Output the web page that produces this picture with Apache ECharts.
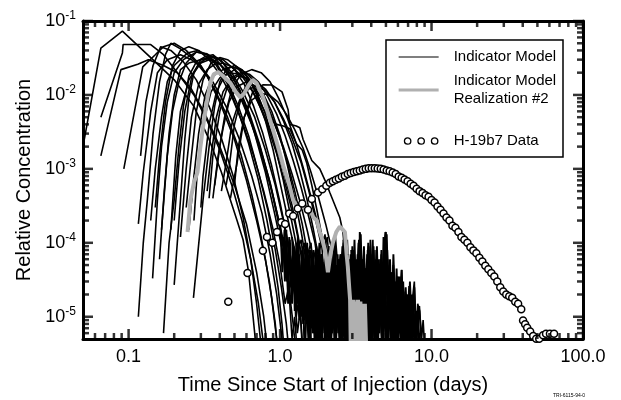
<!DOCTYPE html>
<html>
<head>
<meta charset="utf-8">
<script src="https://cdn.jsdelivr.net/npm/echarts@6/dist/echarts.min.js"></script>
<style>html,body{margin:0;padding:0;background:#fff}#chart{width:621px;height:400px}</style>
</head>
<body>
<div id="chart"></div>
<script>
// ---------- axis ticks ----------
const xTickValues = [0.1, 1, 10, 100];
const xTickLabels = ['0.1', '1.0', '10.0', '100.0'];
const xMinorTicks = [0.06,0.07,0.08,0.09,0.2,0.3,0.4,0.5,0.6,0.7,0.8,0.9,2,3,4,5,6,7,8,9,20,30,40,50,60,70,80,90];
const yTickValues = [1e-5, 1e-4, 1e-3, 1e-2, 1e-1];
const yTickExps = ['-5', '-4', '-3', '-2', '-1'];
const yMinorTicks = [6e-6,7e-6,8e-6,9e-6,2e-5,3e-5,4e-5,5e-5,6e-5,7e-5,8e-5,9e-5,2e-4,3e-4,4e-4,5e-4,6e-4,7e-4,8e-4,9e-4,2e-3,3e-3,4e-3,5e-3,6e-3,7e-3,8e-3,9e-3,2e-2,3e-2,4e-2,5e-2,6e-2,7e-2,8e-2,9e-2];

// ---------- Indicator Model runs [time (days), relative concentration] ----------
const model01 = [[0.05,2.0e-3],[0.0656,0.043],[0.091,0.073],[0.14,0.032],[0.2,0.016],[0.27,7e-3],[0.34,2.5e-3],[0.41,9e-4],[0.47,3.8e-4],[0.52,2e-4],[0.57,1.1e-4],[0.62,4e-5],[0.68,6e-6],[0.7,3e-6]];
const model02 = [[0.0656,5e-3],[0.091,0.037],[0.092,0.048],[0.14,0.048],[0.17,0.035],[0.21,0.02],[0.27,0.01],[0.33,4.5e-3],[0.4,1.8e-3],[0.48,6e-4],[0.56,2e-4],[0.64,6e-5],[0.72,1.5e-5],[0.78,4e-6]];
const model03 = [[0.0656,1.5e-3],[0.089,0.022],[0.115,0.026],[0.135,0.03],[0.17,0.025],[0.21,0.02],[0.26,0.012],[0.32,5.5e-3],[0.4,2e-3],[0.5,6e-4],[0.6,1.8e-4],[0.7,4e-5],[0.78,1e-5],[0.82,4e-6]];
const model04 = [[0.093,1e-3],[0.124,0.024],[0.15,0.035],[0.17,0.045],[0.2,0.05],[0.24,0.04],[0.3,0.025],[0.37,0.012],[0.45,5e-3],[0.55,1.6e-3],[0.65,4.5e-4],[0.75,1.2e-4],[0.85,3e-5],[0.93,8e-6],[0.97,3e-6]];
const model05 = [[0.116,1e-5],[0.125,1e-4],[0.133,3.8e-4],[0.145,3e-3],[0.16,0.015],[0.175,0.035],[0.19,0.05],[0.22,0.042],[0.27,0.03],[0.33,0.018],[0.4,8e-3],[0.5,2.5e-3],[0.6,7e-4],[0.7,2e-4],[0.8,6e-5],[0.88,1.8e-5],[0.95,5e-6]];
const model06 = [[0.116,1.8e-4],[0.125,9e-4],[0.14,6e-3],[0.155,0.02],[0.18,0.03],[0.22,0.035],[0.26,0.03],[0.3,0.024],[0.36,0.015],[0.44,7e-3],[0.54,2.5e-3],[0.65,8e-4],[0.76,2.5e-4],[0.86,7e-5],[0.95,2e-5],[1.02,6e-6],[1.06,3e-6]];
const model07 = [[0.144,3.3e-5],[0.155,3.8e-4],[0.165,2e-3],[0.18,8e-3],[0.2,0.02],[0.23,0.03],[0.28,0.038],[0.33,0.035],[0.38,0.027],[0.45,0.015],[0.53,7e-3],[0.62,2.8e-3],[0.72,9e-4],[0.83,2.8e-4],[0.93,8e-5],[1.02,2.5e-5],[1.1,8e-6],[1.15,3e-6]];
const model08 = [[0.17,6e-6],[0.185,1e-4],[0.2,3.8e-4],[0.215,2e-3],[0.23,7e-3],[0.25,0.018],[0.28,0.028],[0.32,0.033],[0.36,0.035],[0.42,0.027],[0.5,0.016],[0.58,8e-3],[0.68,3e-3],[0.8,9e-4],[0.92,2.5e-4],[1.05,7e-5],[1.15,2.2e-5],[1.22,8e-6],[1.28,3e-6]];
const model09 = [[0.2,2.7e-5],[0.22,3.8e-4],[0.235,2.5e-3],[0.25,9e-3],[0.27,0.02],[0.3,0.027],[0.34,0.03],[0.4,0.026],[0.46,0.02],[0.54,0.012],[0.63,5.5e-3],[0.73,2.2e-3],[0.85,7e-4],[0.98,2e-4],[1.1,7e-5],[1.2,3e-5],[1.25,4.5e-5],[1.3,1.5e-5],[1.36,2.8e-5],[1.42,8e-6],[1.48,1.6e-5],[1.55,4e-6]];
const model10 = [[0.268,1.8e-5],[0.31,3.8e-4],[0.34,2e-3],[0.37,7e-3],[0.4,0.015],[0.44,0.022],[0.5,0.025],[0.56,0.022],[0.62,0.017],[0.7,0.01],[0.8,4.5e-3],[0.9,1.8e-3],[1.0,6.5e-4],[1.12,2.2e-4],[1.25,8e-5],[1.35,3.5e-5],[1.42,5e-5],[1.5,1.8e-5],[1.58,3e-5],[1.65,9e-6],[1.72,1.8e-5],[1.8,5e-6],[1.86,1.2e-5],[1.95,3e-6]];
const model11 = [[0.14,2e-4],[0.15,1e-3],[0.165,5e-3],[0.18,0.015],[0.2,0.025],[0.245,0.037],[0.285,0.04],[0.33,0.035],[0.38,0.025],[0.45,0.014],[0.53,6e-3],[0.62,2.2e-3],[0.72,7e-4],[0.82,2e-4],[0.9,7e-5],[0.97,2.5e-5],[1.03,8e-6],[1.07,3e-6]];
const model12 = [[0.16,6e-5],[0.172,5e-4],[0.185,3e-3],[0.2,0.01],[0.22,0.022],[0.25,0.027],[0.3,0.03],[0.36,0.033],[0.42,0.03],[0.5,0.022],[0.58,0.014],[0.67,7e-3],[0.77,3e-3],[0.88,1.1e-3],[1.0,3.5e-4],[1.12,1.1e-4],[1.22,4e-5],[1.3,6e-5],[1.36,2e-5],[1.42,3.5e-5],[1.5,8e-6],[1.56,1.5e-5],[1.62,3e-6]];
const model13 = [[0.25,1.5e-4],[0.27,8e-4],[0.29,3e-3],[0.32,0.01],[0.36,0.018],[0.42,0.022],[0.48,0.024],[0.52,0.023],[0.6,0.018],[0.7,0.011],[0.8,5.5e-3],[0.92,2.2e-3],[1.05,7e-4],[1.18,2.2e-4],[1.3,8e-5],[1.38,1.1e-4],[1.45,4e-5],[1.52,6.5e-5],[1.6,2e-5],[1.68,3.5e-5],[1.75,1e-5],[1.82,2.2e-5],[1.9,6e-6],[1.96,1.2e-5],[2.05,3e-6]];
const model14 = [[0.37,6e-4],[0.4,2e-3],[0.42,3.5e-3],[0.46,8e-3],[0.52,0.013],[0.6,0.015],[0.7,0.013],[0.78,0.01],[0.88,6e-3],[1.0,2.8e-3],[1.12,1.1e-3],[1.25,4e-4],[1.38,1.4e-4],[1.5,5e-5],[1.58,8e-5],[1.66,2.5e-5],[1.74,4.5e-5],[1.82,1.2e-5],[1.9,2.5e-5],[2.0,6e-6],[2.08,1.4e-5],[2.16,4e-6]];
const model15 = [[0.47,4e-4],[0.52,1.2e-3],[0.58,5e-3],[0.66,0.011],[0.77,0.0137],[0.886,0.0136],[1.03,0.011],[1.13,6.3e-3],[1.16,4e-3],[1.28,3.8e-3],[1.35,3.6e-3],[1.42,2.5e-3],[1.62,1.3e-3],[1.83,1e-3],[1.98,7e-4],[2.13,4.8e-4],[2.23,3.8e-4],[2.48,2.2e-4],[2.6,1.4e-4],[2.7,6e-5],[2.78,1.1e-4],[2.85,3e-5],[2.92,7e-5],[3.0,1.5e-5],[3.08,5e-5],[3.16,8e-6],[3.25,3.5e-5],[3.32,1e-5],[3.38,1.35e-4],[3.44,2e-5],[3.52,6e-5],[3.6,7e-6],[3.68,4e-5],[3.76,1.2e-5],[3.85,8e-5],[3.93,9e-6],[4.02,5e-5],[4.1,1.1e-4],[4.18,1.5e-5],[4.27,6e-5],[4.36,8e-6],[4.45,4e-5],[4.55,1e-5],[4.65,7e-5],[4.75,1.2e-5],[4.85,5e-5],[4.95,1.4e-4],[5.05,2e-5],[5.15,6e-5],[5.25,7e-6],[5.38,4e-5],[5.5,1e-5],[5.62,3e-5],[5.75,6e-6],[5.9,2.5e-5],[6.05,8e-6],[6.2,2e-5],[6.35,4.3e-5],[6.5,6e-6],[6.7,2.2e-5],[6.9,7e-6],[7.1,2.6e-5],[7.3,6e-6],[7.5,1.8e-5],[7.7,3e-5],[7.9,5e-6],[8.1,1.5e-5],[8.35,1.2e-5],[8.6,5e-6],[8.8,9e-6],[9.0,4e-6]];
const model16 = [[0.22,1.2e-4],[0.24,1e-3],[0.26,5e-3],[0.29,0.014],[0.33,0.022],[0.37,0.026],[0.42,0.027],[0.48,0.024],[0.56,0.018],[0.66,0.011],[0.78,5.5e-3],[0.92,2.4e-3],[1.06,9e-4],[1.2,3.2e-4],[1.32,1.2e-4],[1.42,4.5e-5],[1.48,7e-5],[1.54,2e-5],[1.6,4e-5],[1.67,8e-6],[1.74,1.8e-5],[1.8,4e-6]];
const model17 = [[0.19,1.5e-4],[0.205,1.5e-3],[0.22,6e-3],[0.25,0.016],[0.29,0.026],[0.33,0.032],[0.36,0.033],[0.41,0.029],[0.48,0.02],[0.57,0.011],[0.68,5e-3],[0.8,1.8e-3],[0.93,6e-4],[1.05,2e-4],[1.15,7e-5],[1.22,2.5e-5],[1.28,4e-5],[1.34,1e-5],[1.4,2e-5],[1.46,4e-6]];
const model18 = [[0.41,5e-4],[0.44,1.2e-3],[0.48,4e-3],[0.54,8.5e-3],[0.62,0.012],[0.7,0.013],[0.8,0.0115],[0.92,8e-3],[1.05,4.5e-3],[1.2,2.2e-3],[1.35,9.5e-4],[1.5,4e-4],[1.65,1.6e-4],[1.78,7e-5],[1.88,1e-4],[1.96,3e-5],[2.05,5.5e-5],[2.14,1.2e-5],[2.22,2.8e-5],[2.3,6e-6],[2.4,1.5e-5],[2.5,4e-6]];
const model19 = [[0.3,3e-4],[0.31,8e-4],[0.34,4e-3],[0.38,0.011],[0.43,0.018],[0.52,0.023],[0.6,0.02],[0.7,0.014],[0.82,7.5e-3],[0.95,3.5e-3],[1.1,1.4e-3],[1.25,5e-4],[1.4,1.8e-4],[1.52,7e-5],[1.6,1e-4],[1.68,3e-5],[1.76,5e-5],[1.84,1.1e-5],[1.92,2.5e-5],[2.0,5e-6],[2.1,1.5e-5],[2.2,4e-6]];
const model20 = [[0.34,4e-4],[0.36,1.5e-3],[0.4,6e-3],[0.45,0.013],[0.52,0.018],[0.6,0.017],[0.68,0.012],[0.76,7e-3],[0.86,4.6e-3],[0.95,4e-3],[1.05,3.8e-3],[1.16,3.5e-3],[1.28,2.2e-3],[1.4,1.8e-3],[1.5,1.2e-3],[1.62,6e-4],[1.75,2.8e-4],[1.88,1.3e-4],[2.0,6e-5],[2.1,9e-5],[2.2,3e-5],[2.3,6e-5],[2.4,1.2e-5],[2.5,3e-5],[2.6,5e-6],[2.7,1.4e-5],[2.8,4e-6]];
const model21 = [[0.12,1.5e-3],[0.13,8e-3],[0.145,0.025],[0.163,0.045],[0.19,0.04],[0.23,0.028],[0.28,0.016],[0.34,7e-3],[0.41,2.6e-3],[0.49,8e-4],[0.57,2.2e-4],[0.64,6e-5],[0.7,1.5e-5],[0.75,4e-6]];
const model22 = [[0.165,1.5e-4],[0.18,1.5e-3],[0.195,6e-3],[0.215,0.015],[0.24,0.027],[0.28,0.038],[0.33,0.036],[0.38,0.03],[0.45,0.02],[0.53,0.011],[0.63,5e-3],[0.74,1.9e-3],[0.86,6.5e-4],[0.98,2e-4],[1.08,7e-5],[1.16,2.5e-5],[1.22,4e-5],[1.28,1e-5],[1.34,2e-5],[1.4,4e-6]];
const model23 = [[0.27,2e-4],[0.285,1e-3],[0.31,4e-3],[0.35,0.011],[0.4,0.017],[0.46,0.02],[0.54,0.019],[0.64,0.015],[0.76,9e-3],[0.9,4.5e-3],[1.05,2e-3],[1.2,8.5e-4],[1.36,3.5e-4],[1.52,1.4e-4],[1.66,6e-5],[1.74,9e-5],[1.82,2.5e-5],[1.9,5e-5],[1.98,1e-5],[2.06,2.8e-5],[2.15,6e-6],[2.25,1.6e-5],[2.35,4e-6]];
const model24 = [[0.44,6e-4],[0.46,1e-3],[0.5,4e-3],[0.56,0.01],[0.62,0.016],[0.7,0.015],[0.8,0.012],[0.92,8e-3],[1.05,4.8e-3],[1.2,2.6e-3],[1.38,1.2e-3],[1.55,5e-4],[1.72,2e-4],[1.88,9e-5],[1.98,1.3e-4],[2.08,4e-5],[2.18,7e-5],[2.28,1.6e-5],[2.38,3.5e-5],[2.48,6e-6],[2.6,2e-5],[2.7,5e-6]];
const model25 = [[0.2,2e-4],[0.215,1.2e-3],[0.235,6e-3],[0.26,0.017],[0.3,0.03],[0.35,0.031],[0.4,0.026],[0.47,0.017],[0.55,9e-3],[0.65,4e-3],[0.76,1.5e-3],[0.88,5e-4],[1.0,1.5e-4],[1.1,5e-5],[1.18,1.6e-5],[1.24,2.8e-5],[1.3,6e-6],[1.36,1.2e-5],[1.42,3e-6]];
const model26 = [[0.24,3e-4],[0.26,1.5e-3],[0.28,6e-3],[0.31,0.016],[0.35,0.027],[0.4,0.032],[0.45,0.03],[0.52,0.024],[0.6,0.016],[0.7,9e-3],[0.82,4e-3],[0.95,1.6e-3],[1.1,5.5e-4],[1.25,1.9e-4],[1.38,7e-5],[1.46,1e-4],[1.54,3e-5],[1.62,5e-5],[1.7,1e-5],[1.78,2.5e-5],[1.86,5e-6],[1.95,1.2e-5],[2.05,3e-6]];
const model27 = [[0.5,6e-4],[0.53,2e-3],[0.58,5e-3],[0.65,8.5e-3],[0.75,0.0105],[0.85,0.01],[0.97,8e-3],[1.1,5.5e-3],[1.25,3.4e-3],[1.42,1.9e-3],[1.6,9e-4],[1.8,4e-4],[2.0,1.8e-4],[2.2,8e-5],[2.32,1.2e-4],[2.42,4e-5],[2.52,7e-5],[2.62,1.8e-5],[2.72,4e-5],[2.82,8e-6],[2.94,2.2e-5],[3.05,5e-6],[3.18,1.4e-5],[3.3,4e-6]];
const model28 = [[0.33,5e-4],[0.35,1.5e-3],[0.38,5e-3],[0.42,0.011],[0.48,0.017],[0.55,0.02],[0.63,0.019],[0.72,0.015],[0.83,9.5e-3],[0.95,5.5e-3],[1.08,2.8e-3],[1.22,1.3e-3],[1.38,5.5e-4],[1.55,2.2e-4],[1.7,1e-4],[1.8,4.5e-5],[1.88,7e-5],[1.96,2e-5],[2.04,4e-5],[2.12,8e-6],[2.2,2e-5],[2.3,4e-6]];
const model29 = [[0.15,3e-4],[0.16,1.5e-3],[0.175,8e-3],[0.195,0.025],[0.22,0.04],[0.25,0.045],[0.29,0.04],[0.34,0.03],[0.4,0.019],[0.48,9.5e-3],[0.57,4e-3],[0.67,1.5e-3],[0.78,5e-4],[0.9,1.5e-4],[1.0,5e-5],[1.08,1.5e-5],[1.14,2.5e-5],[1.2,5e-6],[1.25,1e-5],[1.3,3e-6]];
const model30 = [[0.36,4e-4],[0.39,1.5e-3],[0.43,5e-3],[0.48,0.012],[0.55,0.019],[0.65,0.022],[0.75,0.02],[0.86,0.015],[0.98,9e-3],[1.12,4.8e-3],[1.28,2.2e-3],[1.45,9e-4],[1.62,3.8e-4],[1.8,1.6e-4],[1.95,8e-5],[2.05,1.2e-4],[2.15,3.5e-5],[2.25,6e-5],[2.35,1.4e-5],[2.45,3e-5],[2.56,6e-6],[2.68,1.6e-5],[2.8,4e-6]];
// late noisy tails of model runs
const tail01 = [[1.3,8e-5],[1.35,2e-5],[1.4,6e-5],[1.45,9e-6],[1.5,4e-5],[1.56,1.2e-5],[1.62,5e-5],[1.68,6e-6],[1.75,3e-5],[1.82,1e-4],[1.88,1.5e-5],[1.95,4e-5],[2.02,6e-6],[2.1,3e-5],[2.18,8e-5],[2.26,1e-5],[2.34,4.5e-5],[2.42,6e-6],[2.5,2.5e-5],[2.58,9e-5],[2.66,1.2e-5],[2.75,3.5e-5],[2.84,5e-6],[2.93,2e-5],[3.02,6.5e-5],[3.12,8e-6],[3.22,3e-5],[3.32,1.1e-4],[3.42,1.2e-5],[3.52,3.2e-5],[3.62,6e-6],[3.73,2.5e-5],[3.84,9e-5],[3.95,1e-5],[4.07,3e-5],[4.19,5e-6],[4.31,2e-5],[4.44,6e-5],[4.57,8e-6],[4.7,2.5e-5],[4.84,5e-6],[4.98,9e-5],[5.12,1.5e-5],[5.27,3e-5],[5.42,5e-6],[5.58,1.8e-5],[5.75,4e-6]];
const tail02 = [[2.0,9e-5],[2.06,2e-5],[2.12,5e-5],[2.19,6e-6],[2.26,3.5e-5],[2.33,1.1e-5],[2.4,7e-5],[2.47,8e-6],[2.55,4e-5],[2.63,1e-4],[2.71,1.3e-5],[2.79,5e-5],[2.88,6e-6],[2.97,3e-5],[3.06,8e-5],[3.15,1.1e-5],[3.25,4e-5],[3.35,5e-6],[3.45,6e-5],[3.56,1.5e-5],[3.67,4.5e-5],[3.78,7e-6],[3.9,6e-5],[4.02,1.6e-5],[4.14,9e-5],[4.27,9e-6],[4.4,3.5e-5],[4.53,6e-6],[4.67,5.5e-5],[4.81,1e-5],[4.96,3e-5],[5.1,8e-5],[5.25,1e-5],[5.4,4e-5],[5.55,6e-6],[5.7,2.5e-5],[5.86,1e-5],[6.02,3.5e-5],[6.2,6e-6],[6.38,2.8e-5],[6.56,5e-6],[6.75,1.8e-5],[6.95,6e-6],[7.15,2.2e-5],[7.37,5e-6],[7.6,1.5e-5],[7.85,4e-6],[8.1,1e-5],[8.4,4e-6]];
const tail03 = [[1.6,4e-5],[1.65,8e-6],[1.7,2.5e-5],[1.76,5e-6],[1.82,1.8e-5],[1.88,4e-6],[1.95,2.2e-5],[2.02,5e-6],[2.09,1.4e-5],[2.16,4e-6],[2.24,2e-5],[2.32,5e-6],[2.4,1.6e-5],[2.48,4e-6],[2.57,2.4e-5],[2.66,5e-6],[2.76,1.8e-5],[2.86,4e-6],[2.96,2.8e-5],[3.07,5e-6],[3.18,2e-5],[3.29,4e-6],[3.41,1.5e-5],[3.53,5e-6],[3.66,2.6e-5],[3.79,4e-6],[3.93,1.9e-5],[4.07,5e-6],[4.22,2.4e-5],[4.37,4e-6],[4.53,1.7e-5],[4.7,5e-6],[4.87,2.1e-5],[5.05,4e-6],[5.24,1.6e-5],[5.44,5e-6],[5.64,1.9e-5],[5.85,4e-6],[6.07,1.4e-5],[6.3,4e-6],[6.55,1.6e-5],[6.8,4e-6],[7.05,1.2e-5],[7.35,4e-6],[7.65,1e-5],[8.0,4e-6]];
const tail04 = [[2.2,3e-5],[2.3,1.2e-4],[2.36,2e-5],[2.44,6e-5],[2.52,5e-6],[2.62,1.1e-4],[2.7,2e-5],[2.8,7e-5],[2.9,1e-5],[3.0,9e-5],[3.1,1.4e-5],[3.2,6e-5],[3.3,8e-6],[3.36,1.4e-4],[3.46,1.6e-5],[3.58,7e-5],[3.7,9e-6],[3.82,1e-4],[3.95,1.2e-5],[4.08,6e-5],[4.2,7e-6],[4.32,8e-5],[4.45,1.1e-5],[4.6,6e-5],[4.75,8e-6],[4.88,1e-4],[5.0,1.4e-4],[5.12,1.2e-5],[5.28,5e-5],[5.45,8e-6],[5.6,7e-5],[5.78,1e-5],[5.95,3.5e-5],[6.15,6e-6],[6.35,4.3e-5],[6.55,8e-6],[6.75,2.5e-5],[7.0,5e-6],[7.2,3e-5],[7.45,6e-6],[7.7,2.5e-5],[7.95,5e-6],[8.3,1.4e-5],[8.6,4e-6]];
const tail05 = [[1.2,1.2e-4],[1.24,2.5e-5],[1.29,7e-5],[1.34,9e-6],[1.39,5e-5],[1.44,1.4e-5],[1.49,9e-5],[1.54,1e-5],[1.6,4.5e-5],[1.66,6e-6],[1.72,3.5e-5],[1.78,1.2e-5],[1.84,6e-5],[1.9,7e-6],[1.97,4e-5],[2.04,1.2e-5],[2.11,7e-5],[2.18,6e-6],[2.25,3e-5],[2.33,9e-6],[2.41,5e-5],[2.5,6e-6],[2.59,3e-5],[2.68,5e-6],[2.78,2e-5],[2.88,4e-6]];
const tail06 = [[1.40,3e-5],[1.46,3e-6],[1.51,2.5e-5],[1.57,3e-6],[1.64,3.5e-5],[1.70,3e-6],[1.77,2e-5],[1.84,3e-6],[1.92,4e-5],[1.99,3e-6],[2.07,2.5e-5],[2.16,3e-6],[2.24,3e-5],[2.33,3e-6],[2.43,4.5e-5],[2.52,3e-6],[2.62,2.5e-5],[2.73,3e-6],[2.84,3.5e-5],[2.95,3e-6],[3.07,2.8e-5],[3.19,3e-6],[3.32,4e-5],[3.45,3e-6],[3.59,2.5e-5],[3.74,3e-6],[3.89,3.5e-5],[4.04,3e-6],[4.20,3e-5],[4.37,3e-6],[4.55,2.5e-5],[4.73,3e-6],[4.92,3.5e-5],[5.11,3e-6],[5.32,2.5e-5],[5.53,3e-6],[5.75,2e-5],[5.98,3e-6],[6.22,1.8e-5],[6.47,3e-6],[6.73,1.5e-5],[7.00,3e-6],[7.28,1.3e-5],[7.57,3e-6],[7.87,8e-6]];
const tail07 = [[1.43,6e-5],[1.49,8e-6],[1.55,4e-5],[1.61,7e-6],[1.67,5e-5],[1.74,9e-6],[1.81,3e-5],[1.88,6e-6],[1.96,5.5e-5],[2.03,8e-6],[2.12,3.5e-5],[2.20,7e-6],[2.29,6e-5],[2.38,1e-5],[2.48,4e-5],[2.58,6e-6],[2.68,7e-5],[2.79,9e-6],[2.90,4e-5],[3.01,7e-6],[3.13,5e-5],[3.26,1e-5],[3.39,8e-5],[3.53,7e-6],[3.67,4.5e-5],[3.81,9e-6],[3.97,6e-5],[4.12,7e-6],[4.29,5e-5],[4.46,1e-5],[4.64,4e-5],[4.83,7e-6],[5.02,7e-5],[5.22,9e-6],[5.43,3.5e-5],[5.65,6e-6],[5.87,3e-5],[6.11,8e-6],[6.35,3e-5],[6.60,6e-6],[6.87,2e-5],[7.14,6e-6],[7.43,2e-5],[7.73,5e-6]];
const tail08 = [[1.0,2e-4],[1.035,4e-5],[1.07,1.5e-4],[1.11,3e-5],[1.15,1.2e-4],[1.19,2e-5],[1.23,9e-5],[1.27,1.5e-5],[1.32,1.1e-4],[1.36,2e-5],[1.41,8e-5],[1.46,1.2e-5],[1.51,1e-4],[1.56,1.5e-5],[1.62,7e-5],[1.67,1e-5],[1.73,9e-5],[1.79,1.4e-5],[1.86,6e-5],[1.92,8e-6],[1.99,1e-4],[2.06,1.2e-5],[2.13,7e-5],[2.2,8e-6],[2.28,9e-5],[2.36,1e-5],[2.44,6e-5],[2.53,5e-6]];
const tail09 = [[2.95,8e-5],[3.02,1.5e-5],[3.1,1.1e-4],[3.17,2e-5],[3.25,7e-5],[3.33,1.2e-5],[3.41,1.3e-4],[3.49,2e-5],[3.58,9e-5],[3.67,1.5e-5],[3.76,7e-5],[3.85,1.1e-5],[3.95,1.1e-4],[4.05,2e-5],[4.15,8e-5],[4.25,1.3e-5],[4.36,9e-5],[4.47,1.5e-5],[4.58,6e-5],[4.7,1e-5],[4.82,1.2e-4],[4.94,2e-5],[5.06,1.3e-4],[5.19,1.6e-5],[5.32,6e-5],[5.45,1e-5],[5.59,5e-5],[5.73,8e-6],[5.88,4.5e-5],[6.03,7e-6],[6.18,3.5e-5],[6.34,6e-6],[6.5,3e-5],[6.67,5e-6]];
const tail10 = [[1.1,1.5e-4],[1.13,2e-5],[1.165,1e-4],[1.2,1.5e-5],[1.235,8e-5],[1.27,1e-5],[1.31,1.2e-4],[1.35,1.8e-5],[1.39,7e-5],[1.43,8e-6],[1.47,9e-5],[1.52,1.2e-5],[1.56,6e-5],[1.61,7e-6],[1.66,8e-5],[1.71,1e-5],[1.76,5e-5],[1.81,6e-6],[1.87,7e-5],[1.92,9e-6],[1.98,5e-5],[2.04,6e-6],[2.1,6e-5],[2.16,1e-5],[2.23,4e-5],[2.29,5e-6],[2.36,5e-5],[2.43,8e-6],[2.51,3e-5],[2.58,4e-6]];
const tail11 = [[3.5,5e-5],[3.62,6e-6],[3.75,3e-5],[3.88,5e-6],[4.01,4e-5],[4.15,7e-6],[4.3,3.5e-5],[4.45,5e-6],[4.6,4.5e-5],[4.76,6e-6],[4.93,3e-5],[5.1,5e-6],[5.28,4e-5],[5.47,7e-6],[5.66,2.5e-5],[5.86,5e-6],[6.06,3e-5],[6.27,6e-6],[6.49,2.5e-5],[6.72,5e-6],[6.95,2e-5],[7.2,5e-6],[7.45,1.8e-5],[7.71,4e-6],[7.98,1.2e-5],[8.26,4e-6]];
const tail12 = [[2.02,6e-5],[2.09,1e-5],[2.17,8e-5],[2.25,1.2e-5],[2.33,5e-5],[2.41,8e-6],[2.5,7e-5],[2.59,1.1e-5],[2.68,9e-5],[2.77,1.4e-5],[2.87,6e-5],[2.97,9e-6],[3.08,7e-5],[3.19,1.2e-5],[3.3,1e-4],[3.42,1.5e-5],[3.54,6e-5],[3.66,8e-6],[3.79,8e-5],[3.93,1.2e-5],[4.07,7e-5],[4.21,9e-6],[4.36,6e-5],[4.51,1e-5],[4.67,8e-5],[4.84,1.2e-5],[5.01,1.1e-4],[5.19,1.3e-5],[5.37,4e-5],[5.56,6e-6],[5.76,3e-5],[5.96,5e-6]];
const tail13 = [[1.5,3e-5],[1.545,5e-6],[1.59,4e-5],[1.64,6e-6],[1.69,2.5e-5],[1.74,4e-6],[1.79,3.5e-5],[1.85,5e-6],[1.9,4.5e-5],[1.96,6e-6],[2.02,3e-5],[2.08,4e-6],[2.14,5e-5],[2.2,6e-6],[2.27,3e-5],[2.34,5e-6],[2.41,4e-5],[2.48,4e-6],[2.55,5.5e-5],[2.63,6e-6],[2.71,3e-5],[2.79,5e-6],[2.87,4.5e-5],[2.96,4e-6],[3.05,3.5e-5],[3.14,6e-6],[3.23,5e-5],[3.33,5e-6],[3.43,3e-5],[3.53,4e-6],[3.64,4.5e-5],[3.75,6e-6],[3.86,3.5e-5],[3.97,5e-6],[4.09,4e-5],[4.22,4e-6],[4.34,3e-5],[4.47,6e-6],[4.61,4.5e-5],[4.75,5e-6],[4.89,3e-5],[5.04,4e-6],[5.19,3.5e-5],[5.34,5e-6],[5.5,2.5e-5],[5.67,4e-6],[5.84,2.5e-5],[6.01,5e-6],[6.19,2e-5],[6.38,4e-6],[6.57,1.8e-5],[6.77,4e-6]];
const tail14 = [[1.05,1.2e-4],[1.076,3e-5],[1.103,9e-5],[1.13,1.5e-5],[1.16,1.1e-4],[1.19,2.5e-5],[1.22,8e-5],[1.25,1.2e-5],[1.28,1e-4],[1.31,2e-5],[1.34,7e-5],[1.38,1e-5],[1.41,9e-5],[1.45,1.8e-5],[1.48,6e-5],[1.52,9e-6],[1.56,8e-5],[1.6,1.5e-5],[1.64,6e-5],[1.68,8e-6],[1.72,7e-5],[1.76,1.2e-5],[1.8,5e-5],[1.85,7e-6],[1.9,6e-5],[1.94,1e-5],[1.99,4.5e-5],[2.04,6e-6],[2.09,5e-5],[2.14,8e-6],[2.2,3e-5]];

// ---------- Indicator Model realization #2 ----------
const realization2 = [[0.245,1.4e-4],[0.256,3.8e-4],[0.27,6.5e-4],[0.285,9e-4],[0.298,2e-3],[0.31,3.7e-3],[0.328,8e-3],[0.346,0.0145],[0.365,0.019],[0.39,0.0204],[0.42,0.018],[0.47,0.0145],[0.51,0.011],[0.545,9.3e-3],[0.58,0.0105],[0.62,0.0135],[0.66,0.016],[0.7,0.0145],[0.77,9.4e-3],[0.86,4.6e-3],[0.955,2.2e-3],[1.05,1.1e-3],[1.16,5.7e-4],[1.22,3.8e-4],[1.3,3.0e-4],[1.4,3.3e-4],[1.5,2.6e-4],[1.58,2.8e-4],[1.66,2.2e-4],[1.75,2e-4],[1.83,1.4e-4],[1.9,1.1e-4],[1.98,8e-5],[2.07,4e-5],[2.15,7e-5],[2.23,1e-4],[2.35,1.4e-4],[2.48,1.65e-4],[2.6,1.5e-4],[2.68,1.4e-4],[2.75,7e-5],[2.8,4.8e-5],[2.86,2.5e-5],[2.9,1.7e-5],[2.93,4e-6],[2.97,1.6e-5],[3.01,4e-6],[3.06,1.7e-5],[3.11,4e-6],[3.16,1.6e-5],[3.21,4e-6],[3.27,1.7e-5],[3.33,4e-6],[3.39,1.6e-5],[3.45,4e-6],[3.51,1.5e-5],[3.57,4e-6],[3.63,1.5e-5],[3.7,4e-6]];

// ---------- H-19b7 field data ----------
const h19b7Data = [[0.455,1.6e-5],[0.61,3.9e-5],[0.77,7.8e-5],[0.82,1.2e-4],[0.89,1.0e-4],[0.955,1.4e-4],[1.02,1.9e-4],[1.08,1.8e-4],[1.15,2.5e-4],[1.22,2.3e-4],[1.31,2.9e-4],[1.4,3.4e-4],[1.53,2.8e-4],[1.62,3.9e-4],[1.78,4.8e-4],[1.9,5.3e-4],[2.02,5.9e-4],
[2.133,6.5e-4],[2.232,6.8e-4],[2.335,7.1e-4],[2.443,7.4e-4],[2.558,7.8e-4],[2.676,8.1e-4],[2.8,8.5e-4],[2.93,8.8e-4],[3.07,9.1e-4],[3.21,9.3e-4],[3.36,9.5e-4],[3.52,9.8e-4],[3.68,1.0e-3],[3.85,1.02e-3],[4.03,1.02e-3],[4.22,1.02e-3],[4.41,1.01e-3],[4.62,1.0e-3],[4.83,9.8e-4],[5.06,9.5e-4],[5.29,9.3e-4],[5.54,8.9e-4],[5.8,8.5e-4],[6.07,7.9e-4],[6.35,7.6e-4],[6.64,7.2e-4],[6.95,6.8e-4],[7.28,6.3e-4],[7.61,5.9e-4],[7.97,5.4e-4],[8.34,5.0e-4],[8.73,4.7e-4],[9.13,4.4e-4],[9.56,4.2e-4],[10.0,3.8e-4],[10.47,3.5e-4],[10.95,3.1e-4],[11.46,2.8e-4],[12.0,2.5e-4],[12.55,2.2e-4],[13.13,2.0e-4],[13.74,1.7e-4],[14.38,1.6e-4],[15.05,1.4e-4],[15.75,1.2e-4],[16.48,1.1e-4],[17.25,1.0e-4],[18.05,8.7e-5],[18.89,7.9e-5],[19.77,7.2e-5],[20.69,6.3e-5],[21.65,5.6e-5],[22.65,4.9e-5],[23.71,4.4e-5],[24.81,3.9e-5],[25.96,3.5e-5],[27.17,3.0e-5],[28.43,2.5e-5],[29.75,2.2e-5],[31.14,2.0e-5],[32.58,1.9e-5],[34.1,1.8e-5],[35.7,1.6e-5],[37.3,1.5e-5],[39.1,1.26e-5],[40.2,8.9e-6],[41.5,7.9e-6],[42.8,7.1e-6],[44.8,6.3e-6],[46.9,5.5e-6],[49.1,5.05e-6],[51.4,5.05e-6],[54.5,5.6e-6],[57.0,5.9e-6],[60.5,5.9e-6],[64.4,5.9e-6]];

const modelRuns = [model01,model02,model03,model04,model05,model06,model07,model08,model09,model10,model11,model12,model13,model14,model15,model16,model17,model18,model19,model20,model21,model22,model23,model24,model25,model26,model27,model28,model29,model30];
const modelTails = [tail01,tail02,tail03,tail04,tail05,tail06,tail07,tail08,tail09,tail10,tail11,tail12,tail13,tail14];

// ---------- chart ----------
const FONT = "'Liberation Sans', Arial, Helvetica, sans-serif";
const NAME_MODEL = 'Indicator Model';
const NAME_REAL = 'Indicator Model\nRealization #2';
const NAME_DATA = 'H-19b7 Data';
const X_MIN = 0.05, X_MAX = 100, Y_MIN = 5e-6, Y_MAX = 0.1;
const GRAY = '#b0b0b0';
const MAJOR_LEN = 10, MINOR_LEN = 6, TICK_W = 2.5;

function logIdx(arr, v) {
  return arr.findIndex(t => Math.abs(Math.log10(t) - Math.log10(v)) < 1e-6);
}

// inward tick marks, positioned by the log axes themselves (rect symbols anchored on the frame)
function tickMarks(name, points, size, offset) {
  return {
    type: 'scatter', name: name, data: points, symbol: 'rect', symbolSize: size, symbolOffset: offset,
    itemStyle: { color: '#000' }, clip: false, z: 6
  };
}

function modelLine(d, w) {
  return {
    type: 'line', name: NAME_MODEL, data: d, symbol: 'none', showSymbol: false,
    lineStyle: { color: '#000', width: w }, itemStyle: { color: '#000' },
    z: 2, silent: true, animation: false, clip: true, emphasis: { disabled: true }
  };
}
const series = [
  tickMarks('x major bottom', xTickValues.map(v => [v, Y_MIN]), [TICK_W, MAJOR_LEN], [0, -MAJOR_LEN / 2]),
  tickMarks('x minor bottom', xMinorTicks.map(v => [v, Y_MIN]), [TICK_W, MINOR_LEN], [0, -MINOR_LEN / 2]),
  tickMarks('x major top', xTickValues.map(v => [v, Y_MAX]), [TICK_W, MAJOR_LEN], [0, MAJOR_LEN / 2]),
  tickMarks('x minor top', xMinorTicks.map(v => [v, Y_MAX]), [TICK_W, MINOR_LEN], [0, MINOR_LEN / 2]),
  tickMarks('y major left', yTickValues.map(v => [X_MIN, v]), [MAJOR_LEN, TICK_W], [MAJOR_LEN / 2, 0]),
  tickMarks('y minor left', yMinorTicks.map(v => [X_MIN, v]), [MINOR_LEN, TICK_W], [MINOR_LEN / 2, 0]),
  tickMarks('y major right', yTickValues.map(v => [X_MAX, v]), [MAJOR_LEN, TICK_W], [-MAJOR_LEN / 2, 0]),
  tickMarks('y minor right', yMinorTicks.map(v => [X_MAX, v]), [MINOR_LEN, TICK_W], [-MINOR_LEN / 2, 0])
].concat(modelRuns.map(d => modelLine(d, 1.6)), modelTails.map(d => modelLine(d, 1.9)));
series.push({
  type: 'line', name: NAME_REAL, data: realization2, symbol: 'none', showSymbol: false,
  lineStyle: { color: GRAY, width: 4 }, itemStyle: { color: GRAY },
  z: 3, silent: true, animation: false, clip: true, emphasis: { disabled: true }
});
series.push({
  type: 'scatter', name: NAME_DATA, data: h19b7Data, symbol: 'circle', symbolSize: 7,
  itemStyle: { color: '#fff', borderColor: '#000', borderWidth: 1.5, opacity: 1 },
  z: 4, silent: true, animation: false, clip: false, emphasis: { disabled: true }
});

const lineIcon = 'path://M0,0M40,10M0,4.4L40,4.4L40,5.6L0,5.6Z';
const bandIcon = 'path://M0,0M40,10M0,3.5L40,3.5L40,6.5L0,6.5Z';
const circlesIcon = 'path://M0,0M40,10M5.8,5a3.2,3.2 0 1,0 6.4,0a3.2,3.2 0 1,0 -6.4,0zM19.3,5a3.2,3.2 0 1,0 6.4,0a3.2,3.2 0 1,0 -6.4,0zM32.8,5a3.2,3.2 0 1,0 6.4,0a3.2,3.2 0 1,0 -6.4,0z';

const option = {
  backgroundColor: '#fff',
  animation: false,
  grid: { left: 83, right: 38, top: 21, bottom: 60, containLabel: false },
  xAxis: [{
    type: 'log', logBase: 10, min: X_MIN, max: X_MAX, position: 'bottom',
    axisLine: { show: true, onZero: false, lineStyle: { color: '#000', width: 3 } },
    axisTick: { show: false }, minorTick: { show: false }, splitLine: { show: false },
    axisLabel: {
      show: true, customValues: xTickValues, margin: 9, color: '#000', fontSize: 18, fontFamily: FONT,
      formatter: v => { const i = logIdx(xTickValues, v); return i >= 0 ? xTickLabels[i] : ''; }
    },
    name: 'Time Since Start of Injection (days)',
    nameLocation: 'middle', nameGap: 36,
    nameTextStyle: { color: '#000', fontSize: 20, fontFamily: FONT }
  }, {
    type: 'log', logBase: 10, min: X_MIN, max: X_MAX, position: 'top',
    axisLine: { show: true, onZero: false, lineStyle: { color: '#000', width: 3 } },
    axisTick: { show: false }, axisLabel: { show: false }, splitLine: { show: false }
  }],
  yAxis: [{
    type: 'log', logBase: 10, min: Y_MIN, max: Y_MAX, position: 'left',
    axisLine: { show: true, onZero: false, lineStyle: { color: '#000', width: 3 } },
    axisTick: { show: false }, minorTick: { show: false }, splitLine: { show: false },
    axisLabel: {
      show: true, customValues: yTickValues, margin: 7, color: '#000', fontSize: 18, fontFamily: FONT,
      lineHeight: 22,
      formatter: v => { const i = logIdx(yTickValues, v); return i >= 0 ? '10{s|' + yTickExps[i] + '}' : ''; },
      rich: { s: { fontSize: 12, fontFamily: FONT, color: '#000', verticalAlign: 'top', lineHeight: 12 } }
    },
    name: 'Relative Concentration',
    nameLocation: 'middle', nameGap: 46,
    nameTextStyle: { color: '#000', fontSize: 20, fontFamily: FONT }
  }, {
    type: 'log', logBase: 10, min: Y_MIN, max: Y_MAX, position: 'right',
    axisLine: { show: true, onZero: false, lineStyle: { color: '#000', width: 3 } },
    axisTick: { show: false }, axisLabel: { show: false }, splitLine: { show: false }
  }],
  legend: {
    orient: 'vertical', left: 398, top: 48, padding: 0, itemGap: -3,
    itemWidth: 40, itemHeight: 10, selectedMode: false, z: 10,
    textStyle: { color: '#000', fontSize: 15, fontFamily: FONT, lineHeight: 18, padding: [0, 0, 0, 10] },
    data: [
      { name: NAME_MODEL, icon: lineIcon, itemStyle: { color: '#000' } },
      { name: NAME_REAL, icon: bandIcon, itemStyle: { color: GRAY }, textStyle: { padding: [18, 0, 0, 10] } },
      { name: NAME_DATA, icon: circlesIcon,
        itemStyle: { color: '#fff', borderColor: '#000', borderWidth: 1.3 },
        textStyle: { padding: [18, 0, 18, 10] } }
    ]
  },
  graphic: [
    { type: 'rect', z: 5, silent: true,
      shape: { x: 386, y: 40, width: 177, height: 117 },
      style: { fill: '#fff', stroke: '#000', lineWidth: 1.5 } },
    { type: 'text', z: 5, left: 553, top: 393, silent: true,
      style: { text: 'TRI-6115-94-0', fontSize: 5, fontFamily: FONT, fill: '#000' } }
  ],
  series: series
};

const chart = echarts.init(document.getElementById('chart'), null, { renderer: 'canvas' });
chart.setOption(option);
</script>
</body>
</html>
